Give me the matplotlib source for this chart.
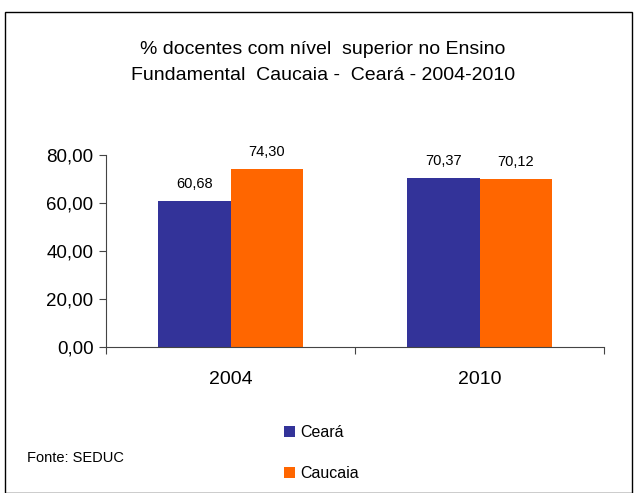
import matplotlib
matplotlib.use("Agg")
import matplotlib.pyplot as plt
from matplotlib.patches import Rectangle
import numpy as np

plt.rcParams['font.family'] = ['Liberation Sans', 'DejaVu Sans']

categories = ["2004", "2010"]
series_names = ["Ceará", "Caucaia"]
ceara = [60.68, 70.37]
caucaia = [74.30, 70.12]
labels_ceara = ["60,68", "70,37"]
labels_caucaia = ["74,30", "70,12"]
yticks = [0, 20, 40, 60, 80]
ytick_labels = ["0,00", "20,00", "40,00", "60,00", "80,00"]
colors = ["#333399", "#FF6600"]

W, H = 637, 493
fig = plt.figure(figsize=(W / 100, H / 100), dpi=100)

# outer frame
fig.patches.append(Rectangle((5 / W, 0), (632 - 5) / W, (H - 12) / H,
                             transform=fig.transFigure, fill=False,
                             edgecolor="black", linewidth=1.0))

ax = fig.add_axes([106 / W, 1 - 347 / H, (604 - 106) / W, (347 - 155) / H])
x = np.arange(len(categories))
bw = 0.29
b1 = ax.bar(x - bw / 2, ceara, bw, color=colors[0], label=series_names[0])
b2 = ax.bar(x + bw / 2, caucaia, bw, color=colors[1], label=series_names[1])

for rect, lab in zip(b1, labels_ceara):
    ax.text(rect.get_x() + rect.get_width() / 2, rect.get_height() + 4.2, lab,
            ha="center", va="bottom", fontsize=10.5)
for rect, lab in zip(b2, labels_caucaia):
    ax.text(rect.get_x() + rect.get_width() / 2, rect.get_height() + 4.2, lab,
            ha="center", va="bottom", fontsize=10.5)

ax.set_xlim(-0.5, 1.5)
ax.set_ylim(0, 80)
ax.set_yticks(yticks)
ax.set_yticklabels(ytick_labels, fontsize=13.5)
ax.set_xticks([-0.5, 0.5, 1.5])
ax.set_xticklabels([])
ax.set_xticks(x, minor=True)
ax.set_xticklabels(categories, minor=True, fontsize=14)
ax.tick_params(axis="x", which="minor", length=0, pad=17)
ax.tick_params(axis="x", which="major", length=5, width=0.8, color="#444444")
ax.tick_params(axis="y", length=5, width=0.8, color="#444444", pad=4)
for s in ["top", "right"]:
    ax.spines[s].set_visible(False)
for s in ["left", "bottom"]:
    ax.spines[s].set_color("#444444")
    ax.spines[s].set_linewidth(0.8)

fig.text(323 / W, 1 - 49 / H, "% docentes com nível  superior no Ensino",
         ha="center", va="center", fontsize=14)
fig.text(323 / W, 1 - 76 / H, "Fundamental  Caucaia -  Ceará - 2004-2010",
         ha="center", va="center", fontsize=14)

fig.text(27 / W, 1 - 458 / H, "Fonte: SEDUC", ha="left", va="center", fontsize=10.5)

# legend
handles = [b1, b2]
leg = fig.legend(handles, series_names, loc="center left",
                 bbox_to_anchor=(276 / W, 1 - 453 / H), frameon=False,
                 fontsize=11.5, handlelength=0.7, handleheight=0.7,
                 handletextpad=0.3, labelspacing=1.65, borderpad=0)

fig.savefig("out.png", dpi=100)
